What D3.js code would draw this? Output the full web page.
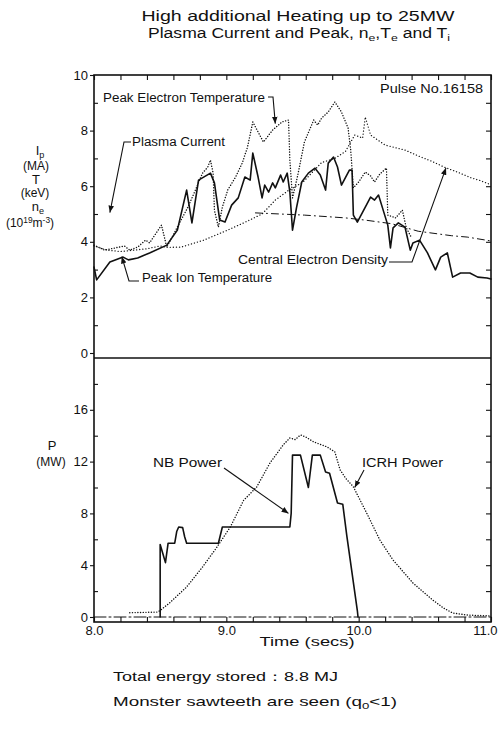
<!DOCTYPE html>
<html><head><meta charset="utf-8">
<script src="https://cdn.jsdelivr.net/npm/d3@7"></script>
<style>
body{margin:0;background:#fff}
svg{display:block}
text{font-family:"Liberation Sans",Arial,Helvetica,sans-serif;fill:#111}
</style>
</head><body>
<svg id="c" width="498" height="731"></svg>
<script>
// ---------- data ----------
const timeDomain = [8, 11];
const xTickValues = [8, 9, 10, 11];
const xTickLabels = ["8.0", "9.0", "10.0", "11.0"];
const topMajorTicks = [0, 2, 4, 6, 8, 10];
const topMinorTicks = [1, 3, 5, 7, 9];
const botMajorTicks = [0, 4, 8, 12, 16];
const botMinorTicks = [2, 6, 10, 14, 18];

// Peak electron temperature (keV), dotted
const teTime = [8.00,8.08,8.16,8.23,8.27,8.33,8.39,8.42,8.51,8.55,8.59,8.63,8.71,8.76,8.82,8.86,8.88,8.90,8.91,8.94,8.97,9.01,9.07,9.12,9.16,9.20,9.28,9.35,9.42,9.47,9.48,9.50,9.54,9.59,9.66,9.69,9.72,9.77,9.82,9.87,9.92,9.94,9.96,10.00,10.05,10.09,10.12,10.16,10.21,10.22,10.28,10.33,10.36,10.40];
const teVal  = [3.88,3.70,3.78,3.85,3.70,3.81,4.06,3.96,4.60,3.81,4.17,4.53,5.25,5.79,6.47,6.69,6.94,6.47,5.14,4.53,5.25,5.86,6.33,6.83,7.41,8.31,7.59,8.02,8.31,8.38,6.94,5.58,6.40,7.59,8.38,8.20,8.45,8.67,9.03,8.67,8.09,7.30,5.94,6.15,6.51,6.37,6.15,6.44,6.65,4.96,4.86,5.14,4.50,4.14];

// Central electron density (1e19 m^-3), dotted
const neTime = [8.00,8.10,8.20,8.30,8.40,8.50,8.55,8.66,8.83,9.01,9.14,9.27,9.37,9.47,9.58,9.72,9.82,9.90,9.97,10.03,10.05,10.09,10.20,10.35,10.47,10.55,10.65,10.75,10.85,10.92,11.00];
const neVal  = [3.85,3.70,3.65,3.70,3.75,3.85,3.80,3.81,4.06,4.42,4.70,5.00,5.50,5.85,6.15,6.85,7.00,7.25,7.84,7.73,8.49,7.84,7.48,7.30,7.05,6.90,6.68,6.50,6.30,6.20,6.05];

// Plasma current (MA), dash-dot
const ipTime = [9.22,9.59,9.90,10.05,10.25,10.45,10.70,10.82,11.00];
const ipVal  = [5.04,4.96,4.86,4.78,4.65,4.38,4.22,4.17,4.03];

// Peak ion temperature (keV), solid
const tiTime = [8.00,8.02,8.12,8.22,8.26,8.33,8.42,8.55,8.63,8.70,8.74,8.79,8.88,8.91,8.95,8.99,9.04,9.09,9.14,9.18,9.20,9.24,9.27,9.29,9.32,9.35,9.37,9.41,9.43,9.46,9.48,9.50,9.53,9.57,9.62,9.67,9.71,9.75,9.77,9.81,9.84,9.87,9.93,9.95,9.96,9.99,10.03,10.09,10.12,10.15,10.18,10.22,10.24,10.26,10.30,10.35,10.39,10.41,10.46,10.52,10.58,10.62,10.67,10.71,10.77,10.84,10.90,10.97,11.00];
const tiVal  = [3.09,2.63,3.27,3.45,3.35,3.42,3.60,3.88,4.42,5.86,4.68,6.22,6.47,6.12,4.78,4.71,5.32,5.58,6.33,6.22,7.19,6.33,5.58,6.04,5.79,6.12,5.94,6.40,6.15,6.47,5.79,4.42,5.22,6.15,6.47,6.65,6.40,5.86,6.83,7.05,6.69,6.04,6.58,6.58,4.96,4.71,5.07,5.61,5.50,5.68,5.22,4.60,3.78,4.50,4.68,4.53,3.70,3.96,4.06,3.60,2.99,3.45,3.60,2.73,2.88,2.88,2.73,2.70,2.66];

// NB power (MW), solid
const nbTime = [8.50,8.50,8.52,8.54,8.56,8.61,8.625,8.64,8.67,8.685,8.70,8.94,8.97,9.48,9.49,9.50,9.56,9.62,9.65,9.71,9.75,9.78,9.84,9.88,9.91,9.99,9.995];
const nbVal  = [0.0,5.6,4.9,4.2,5.7,5.7,6.6,6.95,6.9,6.2,5.7,5.7,6.95,6.95,8.0,12.5,12.5,10.0,12.5,12.5,11.2,11.1,8.8,8.7,6.3,0.5,0.0];

// ICRH power (MW), dotted
const icTime = [8.27,8.48,8.50,8.57,8.70,8.82,8.93,9.03,9.13,9.23,9.33,9.43,9.48,9.52,9.56,9.60,9.66,9.76,9.82,9.86,9.90,9.96,10.06,10.16,10.26,10.41,10.56,10.64,10.71,10.82,11.00];
const icVal  = [0.33,0.38,0.50,1.08,2.32,3.86,5.41,6.95,9.00,10.05,11.90,13.29,13.83,13.70,14.06,13.90,13.52,13.14,12.75,11.36,10.74,10.05,8.04,5.95,4.40,2.63,1.31,0.70,0.31,0.15,0.08];

// ---------- layout ----------
const svg = d3.select("#c");
const L = 94, R = 491, TOP = 75, MID = 358, BOT = 622;
const x = d3.scaleLinear().domain(timeDomain).range([L, R]);
const yTop = d3.scaleLinear().domain([0, 10]).range([353, TOP]);
const yBot = d3.scaleLinear().domain([0, 20]).range([617, MID]);
const ink = "#111";

const defs = svg.append("defs");
defs.append("marker").attr("id","ah").attr("viewBox","0 0 10 8").attr("refX",10).attr("refY",4)
  .attr("markerWidth",7).attr("markerHeight",6).attr("markerUnits","userSpaceOnUse").attr("orient","auto")
  .append("path").attr("d","M0,0L10,4L0,8Z").attr("fill",ink);

// ---------- frames ----------
svg.append("rect").attr("x",L).attr("y",TOP).attr("width",R-L).attr("height",BOT-TOP)
  .attr("fill","none").attr("stroke",ink).attr("stroke-width",1.6);
svg.append("line").attr("x1",L).attr("x2",R).attr("y1",MID).attr("y2",MID).attr("stroke",ink).attr("stroke-width",1.4);

function styleAxis(g){ g.select(".domain").remove(); g.selectAll("line").attr("stroke",ink).attr("stroke-width",1.1);
  g.selectAll("text").attr("font-size",13).attr("fill",ink).style("font-family",'"Liberation Sans",Arial,sans-serif'); }

const fineTimes = d3.range(0, 16).map(i => 8 + i * 0.2);
// bottom x axis: inward ticks + labels
svg.append("g").attr("transform",`translate(0,${BOT})`)
  .call(d3.axisTop(x).tickValues(fineTimes).tickSize(5).tickFormat("")).call(styleAxis);
const xAxisG = svg.append("g").attr("transform",`translate(0,${BOT})`)
  .call(d3.axisBottom(x).tickValues(xTickValues).tickSize(0).tickPadding(4)
    .tickFormat((d,i)=>xTickLabels[i])).call(styleAxis);
// last label sits against the right edge of the page
xAxisG.selectAll(".tick text").filter(d => d === 11).attr("text-anchor","end").attr("dx", 6);
// top border ticks
svg.append("g").attr("transform",`translate(0,${TOP})`)
  .call(d3.axisBottom(x).tickValues(fineTimes).tickSize(5).tickFormat("")).call(styleAxis);

// top panel left axis
svg.append("g").attr("transform",`translate(${L},0)`)
  .call(d3.axisLeft(yTop).tickValues(topMajorTicks).tickSize(4).tickPadding(2).tickFormat(d3.format("d"))).call(styleAxis);
svg.append("g").attr("transform",`translate(${L},0)`)
  .call(d3.axisRight(yTop).tickValues(topMinorTicks).tickSize(4).tickFormat("")).call(styleAxis);
svg.append("g").attr("transform",`translate(${R},0)`)
  .call(d3.axisLeft(yTop).tickValues(d3.range(1,10)).tickSize(5).tickFormat("")).call(styleAxis);

// bottom panel left axis
svg.append("g").attr("transform",`translate(${L},0)`)
  .call(d3.axisLeft(yBot).tickValues(botMajorTicks).tickSize(4).tickPadding(2).tickFormat(d3.format("d"))).call(styleAxis);
svg.append("g").attr("transform",`translate(${L},0)`)
  .call(d3.axisRight(yBot).tickValues(botMinorTicks).tickSize(4).tickFormat("")).call(styleAxis);
svg.append("g").attr("transform",`translate(${R},0)`)
  .call(d3.axisLeft(yBot).tickValues(d3.range(2,20,2)).tickSize(5).tickFormat("")).call(styleAxis);

// ---------- series ----------
function pairs(ts, vs){ return ts.map((t,i)=>[t, vs[i]]); }
const lineTop = d3.line().x(d=>x(d[0])).y(d=>yTop(d[1]));
const lineBot = d3.line().x(d=>x(d[0])).y(d=>yBot(d[1]));

function draw(gen, data, w, dash){
  svg.append("path").datum(data).attr("d",gen).attr("fill","none").attr("stroke",ink)
    .attr("stroke-width",w).attr("stroke-linejoin","round").attr("stroke-linecap","round")
    .attr("stroke-dasharray",dash||null);
}
draw(lineTop, pairs(neTime, neVal), 1.3, "0.1,3");
draw(lineTop, pairs(teTime, teVal), 1.4, "0.1,2.6");
draw(lineTop, pairs(ipTime, ipVal), 1.0, "7,4,1,4");
draw(lineTop, pairs(tiTime, tiVal), 1.6);

// zero baseline (dash-dot) in power panel
draw(lineBot, [[8,0],[11,0]], 1.0, "12,3,2,3");
draw(lineBot, pairs(icTime, icVal), 1.4, "0.1,2.6");
draw(lineBot, pairs(nbTime, nbVal), 1.6);

// ---------- annotations ----------
function txt(str, xx, yy, opts){
  opts = opts || {};
  const t = svg.append("text").attr("x",xx).attr("y",yy).attr("font-size",opts.size||12)
    .attr("text-anchor",opts.anchor||"start");
  if (opts.len) t.attr("textLength",opts.len).attr("lengthAdjust","spacingAndGlyphs");
  return t;
}
function rich(t, parts){
  parts.forEach(p=>{
    if (typeof p === "string") t.append("tspan").text(p);
    else t.append("tspan").attr("baseline-shift",p.sub?"-28%":"45%").attr("font-size",p.size||"70%").text(p.s);
  });
  return t;
}
function leader(points){
  svg.append("path").attr("d",d3.line()(points)).attr("fill","none").attr("stroke",ink)
    .attr("stroke-width",1.1).attr("marker-end","url(#ah)");
}

// title
txt("", 298, 21, {size:14, anchor:"middle", len:313}).text("High additional Heating up to 25MW");
rich(txt("", 299, 38, {size:14, anchor:"middle", len:302}),
  ["Plasma Current and Peak, n",{s:"e",sub:1},",T",{s:"e",sub:1}," and T",{s:"i",sub:1}]);

// y labels
rich(txt("",40,155,{size:13,anchor:"middle"}),["I",{s:"p",sub:1}]);
txt("",36,170,{size:12,anchor:"middle"}).text("(MA)");
txt("",36,184,{size:13,anchor:"middle"}).text("T");
txt("",35,197,{size:12,anchor:"middle"}).text("(keV)");
rich(txt("",38,211,{size:13,anchor:"middle"}),["n",{s:"e",sub:1}]);
rich(txt("",30,227,{size:12,anchor:"middle"}),["(10",{s:"19"},"m",{s:"-3"},")"]);
txt("",52,450,{size:13,anchor:"middle"}).text("P");
txt("",51,466,{size:12,anchor:"middle"}).text("(MW)");

txt("",483,93,{size:13,anchor:"end",len:103}).text("Pulse No.16158");

// series labels + leaders
txt("",103,102,{size:12,len:162}).text("Peak Electron Temperature");
leader([[268,97],[273,97],[x(9.37),yTop(8.25)]]);

txt("",132,146,{size:12,len:93}).text("Plasma Current");
leader([[131,142],[124,142],[x(8.12),yTop(5.05)]]);

txt("",142,282,{size:12,len:130}).text("Peak Ion Temperature");
leader([[139,281],[129,281],[x(8.21),yTop(3.47)]]);

txt("",238,264,{size:12,len:150}).text("Central Electron Density");
leader([[389,262],[412,262],[x(10.66),yTop(6.66)]]);

txt("",153,467,{size:12,len:69}).text("NB Power");
leader([[224,468],[x(9.47),yBot(8.0)]]);

txt("",362,467,{size:12,len:81}).text("ICRH Power");
leader([[364,470],[x(9.97),yBot(10.0)]]);

// axis title and notes
txt("",307,646,{size:13,anchor:"middle",len:95}).text("Time  (secs)");
txt("",113,681,{size:13,len:225}).text("Total energy stored：8.8 MJ");
rich(txt("",113,706,{size:13,len:284}),["Monster sawteeth are seen (q",{s:"0",sub:1},"<1)"]);
</script>
</body></html>
